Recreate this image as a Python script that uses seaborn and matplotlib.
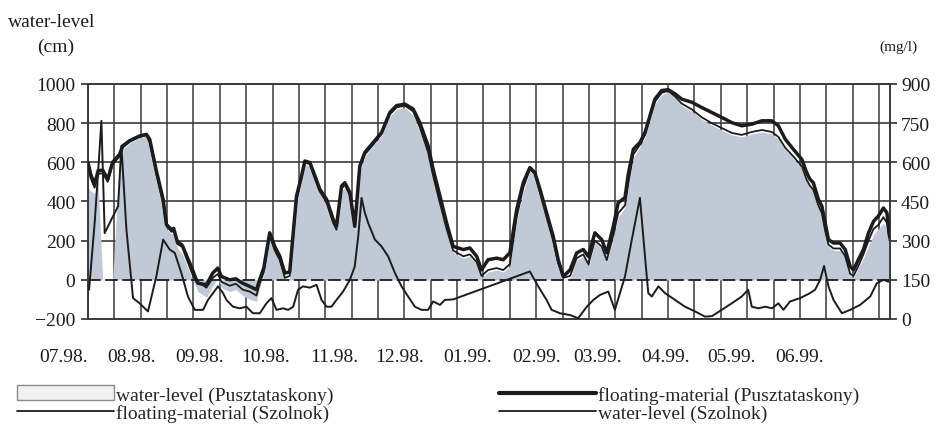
import seaborn as sns
import matplotlib.pyplot as plt
import matplotlib.patches as mpatches
import pandas as pd

# days counted from 01.07.1998
days = [0, 1.2, 3, 4.6, 6.7, 9, 11.2, 14.4, 15.8, 19,
        23.5, 26.6, 28.1, 31.1, 34.2, 35.7, 38, 39, 40.8, 43.1,
        45.4, 47.7, 50, 53.9, 56.8, 59.1, 60.7, 64.5, 67.3, 70.4,
        73.6, 76.7, 78.1, 80, 82.7, 85, 87.3, 89.6, 91.8, 94.9,
        97.2, 98.7, 101, 103.3, 105.5, 108.6, 111.6, 113.1, 115.4, 116.9,
        119.2, 121.4, 123.7, 126, 129.8, 133.6, 137.4, 140.4, 144.2, 148,
        151, 154.8, 157.1, 160.2, 163.2, 166.2, 170.8, 173.8, 176.9, 179.1,
        182.1, 186, 189, 192, 195.1, 198.1, 201.1, 203.4, 205.7, 208.7,
        211.7, 214, 216.3, 219.4, 222.4, 225.4, 227.7, 230.7, 233.8, 236.1,
        239.1, 241.3, 244.4, 245.9, 248.2, 251.2, 253.5, 255.8, 258, 261.1,
        264.1, 267.2, 270.2, 274.8, 279.3, 283.9, 288.4, 293, 297.5, 302.1,
        306.7, 311.2, 314.2, 317.3, 321, 324.9, 327.1, 328.6, 330.1, 332.4,
        334, 335.5, 337, 339.3, 342.3, 344.6, 346.9, 348.4, 350.6, 352.9,
        355.2, 357.5, 359.7, 362, 363.6, 364.8]

# water-level (cm)
wl_puszta = [470, 455, 440, 500, 0, 0, 0, 620, 665, 700,
             725, 735, 690, 520, 370, 260, 235, 240, 160, 130,
             60, 0, -60, -90, -30, 10, -40, -60, -50, -80,
             -100, -110, -40, 30, 210, 140, 90, 0, 10, 400,
             510, 590, 580, 505, 440, 380, 280, 245, 450, 475,
             420, 250, 560, 630, 685, 740, 835, 870, 880, 840,
             760, 630, 510, 370, 240, 140, 110, 120, 80, 10,
             40, 50, 40, 70, 300, 450, 555, 530, 430, 300,
             180, 70, 0, 10, 100, 120, 70, 190, 160, 90,
             220, 320, 370, 470, 620, 680, 730, 820, 900, 945,
             960, 925, 890, 860, 820, 790, 765, 740, 730, 745,
             755, 745, 720, 665, 620, 570, 500, 470, 450, 370,
             330, 240, 170, 150, 150, 110, 20, 10, 60, 110,
             170, 230, 260, 290, 260, 200]

wl_szolnok = [580, 520, 470, 540, 545, 500, 590, 630, 675, 705,
              730, 738, 700, 540, 390, 275, 245, 250, 200, 180,
              120, 60, -10, -40, 10, 30, -10, -30, -20, -50,
              -60, -80, -20, 40, 225, 150, 100, 10, 20, 410,
              520, 600, 590, 515, 450, 395, 290, 255, 465, 485,
              430, 270, 570, 640, 690, 745, 845, 880, 890, 860,
              780, 650, 530, 390, 260, 150, 120, 130, 90, 20,
              50, 60, 50, 80, 320, 470, 565, 540, 445, 320,
              200, 85, 10, 20, 110, 130, 80, 200, 170, 100,
              230, 340, 380, 490, 640, 690, 740, 830, 910, 955,
              965, 935, 900, 870, 830, 800, 775, 750, 740, 755,
              765, 755, 730, 675, 630, 580, 510, 480, 460, 380,
              340, 250, 180, 160, 160, 120, 30, 20, 70, 130,
              200, 260, 280, 320, 290, 200]

# floating-material (mg/l)
fm_puszta = [600, 555, 515, 568, 570, 535, 600, 631, 663, 683,
             701, 707, 688, 568, 458, 362, 342, 347, 291, 278,
             227, 176, 137, 131, 176, 195, 163, 150, 154, 137,
             125, 112, 150, 195, 330, 278, 240, 176, 180, 470,
             548, 605, 599, 548, 497, 458, 381, 356, 509, 522,
             484, 355, 586, 638, 676, 714, 791, 817, 823, 804,
             752, 663, 573, 470, 368, 278, 266, 272, 240, 188,
             227, 233, 227, 253, 419, 522, 580, 560, 497, 407,
             317, 227, 163, 188, 253, 266, 240, 330, 304, 253,
             355, 445, 465, 555, 650, 676, 714, 779, 842, 875,
             878, 862, 842, 830, 810, 791, 772, 752, 740, 746,
             759, 759, 740, 689, 650, 611, 560, 535, 522, 458,
             432, 368, 304, 291, 291, 266, 201, 188, 227, 266,
             329, 374, 394, 425, 407, 317]

fm_days = [0.5, 3.1, 4.9, 6.1, 7.6, 11.4, 13.7, 15.2, 17.5, 20.5,
           23.5, 27.3, 31.1, 34.2, 37.2, 39.5, 42.5, 45.5, 48.6, 52.4,
           54.6, 56.9, 59.2, 61.5, 63, 66, 69.1, 72.1, 75.1, 78.2,
           81.2, 83.5, 85.8, 88.8, 91.1, 93.4, 95.6, 97.9, 101, 104,
           106.3, 108.6, 110.8, 113.1, 116.1, 119.2, 121.4, 123, 124.5, 126,
           127.5, 130.6, 133.6, 136.6, 139.7, 142.7, 145.7, 148.8, 151.8, 154.8,
           157.1, 160.2, 162.4, 166.2, 201.1, 204.9, 208.7, 211, 214.8, 219.4,
           223.1, 227, 230, 233, 236.8, 239.8, 242.1, 244.4, 247.5, 251.2,
           252.7, 254.3, 255, 256.6, 259.6, 262.6, 267.2, 271.7, 276.3, 280.8,
           284, 288.4, 293, 297.5, 300.5, 302.1, 305.1, 308.2, 311.3, 314.2,
           316.5, 319.5, 324.1, 328.6, 330.9, 333.2, 335, 337, 339.3, 343.1,
           346.9, 351.4, 356, 359, 362, 364.3]

fm_szolnok = [112, 375, 600, 759, 329, 394, 432, 663, 342, 80,
              60, 29, 163, 304, 266, 253, 176, 86, 35, 35,
              73, 99, 125, 99, 73, 47, 41, 47, 22, 22,
              60, 80, 35, 41, 35, 47, 112, 125, 120, 131,
              73, 47, 47, 73, 105, 150, 201, 317, 464, 407,
              368, 304, 278, 240, 176, 125, 86, 47, 35, 35,
              67, 54, 73, 75, 182, 125, 73, 35, 22, 15,
              3, 47, 73, 92, 105, 35, 99, 163, 304, 464,
              317, 163, 99, 86, 125, 99, 73, 47, 29, 9,
              11, 35, 60, 86, 112, 47, 41, 47, 41, 60,
              35, 67, 80, 99, 112, 150, 203, 125, 73, 22,
              35, 54, 86, 137, 150, 143]

month_days = [0, 31, 62, 92, 123, 153, 184, 215, 243, 274, 304, 335]
month_labels = ['07.98.', '08.98.', '09.98.', '10.98.', '11.98.', '12.98.',
                '01.99.', '02.99.', '03.99.', '04.99.', '05.99.', '06.99.']
cm_ticks = [-200, 0, 200, 400, 600, 800, 1000]
mg_ticks = [0, 150, 300, 450, 600, 750, 900]

df = pd.DataFrame({'day': days, 'wl_p': wl_puszta, 'wl_s': wl_szolnok, 'fm_p': fm_puszta})
df_fm = pd.DataFrame({'day': fm_days, 'fm_s': fm_szolnok})

sns.set_theme(style='white')
plt.rcParams['font.family'] = ['Liberation Serif', 'DejaVu Serif']
ink = '#1c1c1c'
grid_c = '#3a3a3a'
fs = 14

fig, ax = plt.subplots(figsize=(9.4, 4.27), dpi=100)
fig.subplots_adjust(left=0.0936, right=0.9468, top=0.801, bottom=0.2506)
ax2 = ax.twinx()

# grid
for d in range(0, 366, 12):
    ax.axvline(d, color=grid_c, lw=1.1, zorder=0)
for v in cm_ticks:
    if v != 0:
        ax.axhline(v, color=grid_c, lw=1.2, zorder=0)

ax.fill_between(df.day, 0, df.wl_p, color='#c0cad7', lw=0, zorder=2)
ax.axhline(0, color=ink, lw=1.3, ls=(0, (7, 2.5)), zorder=3)
sns.lineplot(data=df, x='day', y='wl_s', ax=ax, color=ink, lw=1.3, zorder=4)
sns.lineplot(data=df, x='day', y='fm_p', ax=ax2, color=ink, lw=2.5, zorder=5)
sns.lineplot(data=df_fm, x='day', y='fm_s', ax=ax2, color=ink, lw=1.4, zorder=5)

ax.set_xlim(0, 365)
ax.set_ylim(-200, 1000)
ax2.set_ylim(0, 900)
ax.set_yticks(cm_ticks)
ax2.set_yticks(mg_ticks)
ax.set_xticks(month_days)
ax.set_xticklabels(month_labels, ha='right')
ax.set_xlabel('')
ax.set_ylabel('')
ax2.set_ylabel('')
ax.tick_params(axis='x', length=0, pad=21, labelsize=fs, colors=ink)
ax.tick_params(axis='y', left=True, length=5, width=1.1, pad=4, labelsize=fs,
               colors=ink)
ax2.tick_params(axis='y', right=True, length=5, width=1.1, pad=3, labelsize=fs,
                colors=ink)
for a in (ax, ax2):
    for s in a.spines.values():
        s.set_color(grid_c)
        s.set_linewidth(1.2)

fig.text(0.009, 0.948, 'water-level', fontsize=fs, color=ink, va='center')
fig.text(0.040, 0.890, '(cm)', fontsize=fs, color=ink, va='center')
fig.text(0.936, 0.890, '(mg/l)', fontsize=11, color=ink, va='center')

h_fill = mpatches.Patch(facecolor='#f2f2f2', edgecolor='#8a8a8a', lw=1)
h_thin1 = plt.Line2D([], [], color=ink, lw=1.3)
h_thick = plt.Line2D([], [], color=ink, lw=3)
h_thin2 = plt.Line2D([], [], color=ink, lw=1.3)
fig.legend([h_fill, h_thin1, h_thick, h_thin2],
           ['water-level (Pusztataskony)', 'floating-material (Szolnok)',
            'floating-material (Pusztataskony)', 'water-level (Szolnok)'],
           ncol=2, loc='upper left', bbox_to_anchor=(0.018, 0.095),
           frameon=False, handlelength=5.0, handletextpad=0.1,
           columnspacing=8.5, labelspacing=0.0, fontsize=fs,
           borderaxespad=0, borderpad=0, handleheight=0.8)

plt.savefig('out.png', dpi=100)
